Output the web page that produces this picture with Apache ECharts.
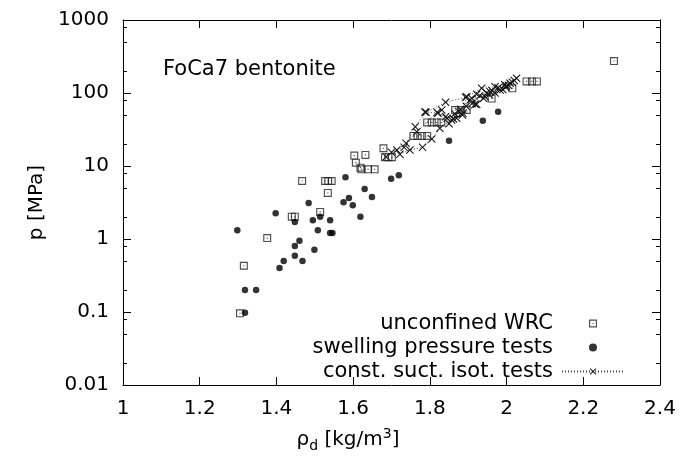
<!DOCTYPE html>
<html>
<head>
<meta charset="utf-8">
<script src="https://cdn.jsdelivr.net/npm/echarts@6/dist/echarts.min.js"></script>
<style>
html,body{margin:0;padding:0;background:#fff;}
#chart{width:696px;height:462px;}
</style>
</head>
<body>
<div id="chart"></div>
<script>
// ---- data ----
const xRange = [1, 2.4];
const xInterval = 0.2;
const yRange = [0.01, 1000];
const yMinorTicks = [0.02,0.05,0.08,0.2,0.5,0.8,2,5,8,20,50,80,200,500,800];

const wrcX = [1.305,1.315,1.376,1.440,1.448,1.514,1.467,1.527,1.535,1.544,1.534,1.603,1.632,1.607,1.619,1.622,1.639,1.656,1.679,1.683,1.692,1.701,1.757,1.768,1.779,1.793,1.793,1.805,1.818,1.830,1.866,1.881,1.896,1.961,2.015,2.052,2.066,2.079,2.280];
const wrcP = [0.096,0.43,1.03,2.02,2.02,2.35,6.23,6.23,6.23,6.23,4.27,13.9,14.2,11.1,9.5,9.0,9.0,9.0,17.5,13.2,13.2,13.2,25.8,25.8,25.8,25.8,39.5,39.5,39.5,39.5,58.5,58.5,58.5,84,116,144,144,144,274];

const swX = [1.298,1.398,1.484,1.448,1.495,1.514,1.540,1.508,1.540,1.546,1.460,1.448,1.499,1.448,1.419,1.468,1.408,1.318,1.347,1.318,1.580,1.630,1.589,1.575,1.599,1.649,1.619,1.699,1.719,1.850,1.938,1.978];
const swP = [1.32,2.25,3.11,1.71,1.80,2.02,1.80,1.32,1.21,1.21,0.95,0.80,0.71,0.59,0.50,0.50,0.40,0.20,0.20,0.098,7.0,4.84,3.64,3.18,2.90,3.76,2.02,6.7,7.46,22.2,41.8,55.5];

const iso1X = [1.686,1.714,1.738,1.762,1.790,1.841,1.893,1.935,1.970,2.009,2.026];
const iso1P = [13.4,16.6,20.5,34.5,54.4,74.6,87.3,116,122,136,159];
const iso2X = [1.700,1.733,1.766,1.819,1.841,1.870,1.909,1.944,1.983,2.005];
const iso2P = [15.4,18.0,29.5,54.4,47.3,45.0,84.6,89,110,128];
const iso3X = [1.722,1.748,1.781,1.805,1.826,1.857,1.885,1.922,1.957,1.998];
const iso3P = [14.5,16.6,18.0,23.4,32.8,42.7,50,70,104,120];
const iso4X = [1.787,1.821,1.845,1.865,1.880,1.895,1.910,1.922,1.940,1.955,1.970,1.990,2.000,2.015];
const iso4P = [55,53,45,52,60,66,72,96,85,95,100,112,125,140];
const iso5X = [1.831,1.850,1.862,1.875,1.886,1.896,1.905,1.918,1.930,1.948,1.962,1.978,1.995,2.020];
const iso5P = [58.5,38,44,56,53,89,80,70,92,100,108,118,130,148];

const isoTests = [[iso1X,iso1P],[iso2X,iso2P],[iso3X,iso3P],[iso4X,iso4P],[iso5X,iso5P]];

const nameWRC = 'unconfined WRC';
const nameSW = 'swelling pressure tests';
const nameISO = 'const. suct. isot. tests';

// ---- styles ----
const FONT = 'DejaVu Sans';
const FS = 20;
const squarePath = 'path://M0,0H14V14H0ZM2,2V12H12V2ZM6,6H8V8H6Z';
const crossPath = 'path://M0,0.9L0.9,0L10,9.1L9.1,10ZM9.1,0L10,0.9L0.9,10L0,9.1Z';

const zip = (xs, ys) => xs.map((x, i) => [x, ys[i]]);

const chart = echarts.init(document.getElementById('chart'), null, {renderer: 'canvas'});

const axisCommon = {
  axisLine: {show: true, lineStyle: {color: '#000', width: 1}},
  axisTick: {show: true, inside: true, length: 8, lineStyle: {color: '#000', width: 1}},
  splitLine: {show: false},
  minorTick: {show: false},
};

const isoSeries = isoTests.map(([xs, ps]) => ({
  name: nameISO,
  type: 'line',
  data: zip(xs, ps),
  symbol: crossPath,
  symbolSize: 8,
  showSymbol: true,
  itemStyle: {color: '#111'},
  lineStyle: {color: '#444', width: 1, type: [1, 2]},
  z: 3,
  animation: false
}));

const option = {
  animation: false,
  backgroundColor: '#fff',
  textStyle: {fontFamily: FONT},
  grid: {left: 123, right: 36, top: 20, bottom: 77, containLabel: false},
  xAxis: [
    Object.assign({}, axisCommon, {
      type: 'value', position: 'bottom', min: xRange[0], max: xRange[1], interval: xInterval,
      axisLabel: {color: '#000', fontFamily: FONT, fontSize: FS, margin: 14,
        formatter: v => String(+v.toFixed(1))}
    }),
    Object.assign({}, axisCommon, {
      type: 'value', position: 'top', min: xRange[0], max: xRange[1], interval: xInterval,
      axisLabel: {show: false}
    })
  ],
  yAxis: [
    Object.assign({}, axisCommon, {
      type: 'log', logBase: 10, position: 'left', min: yRange[0], max: yRange[1],
      name: 'p [MPa]', nameLocation: 'middle', nameGap: 76, nameRotate: 90,
      nameTextStyle: {color: '#000', fontFamily: FONT, fontSize: FS},
      axisLabel: {color: '#000', fontFamily: FONT, fontSize: FS, margin: 14,
        formatter: v => String(+Number(v).toPrecision(6))}
    }),
    Object.assign({}, axisCommon, {
      type: 'log', logBase: 10, position: 'right', min: yRange[0], max: yRange[1],
      axisLabel: {show: false}
    })
  ],
  legend: {
    orient: 'vertical',
    right: 66,
    top: 308,
    align: 'right',
    itemWidth: 62,
    itemHeight: 8,
    itemGap: 3,
    selectedMode: false,
    textStyle: {color: '#000', fontFamily: FONT, fontSize: 21, padding: [0, 4, 0, 0]},
    data: [{name: nameWRC}, {name: nameSW}, {name: nameISO}]
  },
  graphic: [
    {type: 'text', left: 163, top: 59, style: {text: 'FoCa7 bentonite', fill: '#000', font: '21px "' + FONT + '"'}},
    {type: 'text', left: 'center', top: 425, style: {
      text: '{a|ρ}{s|d}{a| [kg/m}{p|3}{a|]}',
      rich: {
        a: {fontFamily: FONT, fontSize: FS, fill: '#000', lineHeight: 30, verticalAlign: 'middle'},
        s: {fontFamily: FONT, fontSize: 14, fill: '#000', lineHeight: 30, verticalAlign: 'bottom', padding: [0, 0, 2, 0]},
        p: {fontFamily: FONT, fontSize: 14, fill: '#000', lineHeight: 30, verticalAlign: 'top', padding: [2, 0, 0, 0]}
      }
    }}
  ],
  series: [
    {
      name: nameWRC, type: 'scatter', data: zip(wrcX, wrcP),
      symbol: squarePath, symbolSize: 8,
      itemStyle: {color: '#222'}, z: 4
    },
    {
      name: nameSW, type: 'scatter', data: zip(swX, swP),
      symbol: 'circle', symbolSize: 6.5,
      itemStyle: {color: '#000'}, z: 4
    },
    ...isoSeries,
    {
      type: 'custom', silent: true, xAxisIndex: 0, yAxisIndex: 0, clip: false,
      data: yMinorTicks.map(v => [xRange[0], v]),
      encode: {x: 0, y: 1},
      renderItem: (params, api) => {
        const cs = params.coordSys;
        const y = Math.round(api.coord([api.value(0), api.value(1)])[1]) + 0.5;
        const L = 4;
        return {type: 'group', children: [
          {type: 'line', shape: {x1: cs.x, y1: y, x2: cs.x + L, y2: y}, style: {stroke: '#000', lineWidth: 1}},
          {type: 'line', shape: {x1: cs.x + cs.width - L, y1: y, x2: cs.x + cs.width, y2: y}, style: {stroke: '#000', lineWidth: 1}}
        ]};
      }
    }
  ]
};
chart.setOption(option);
</script>
</body>
</html>
